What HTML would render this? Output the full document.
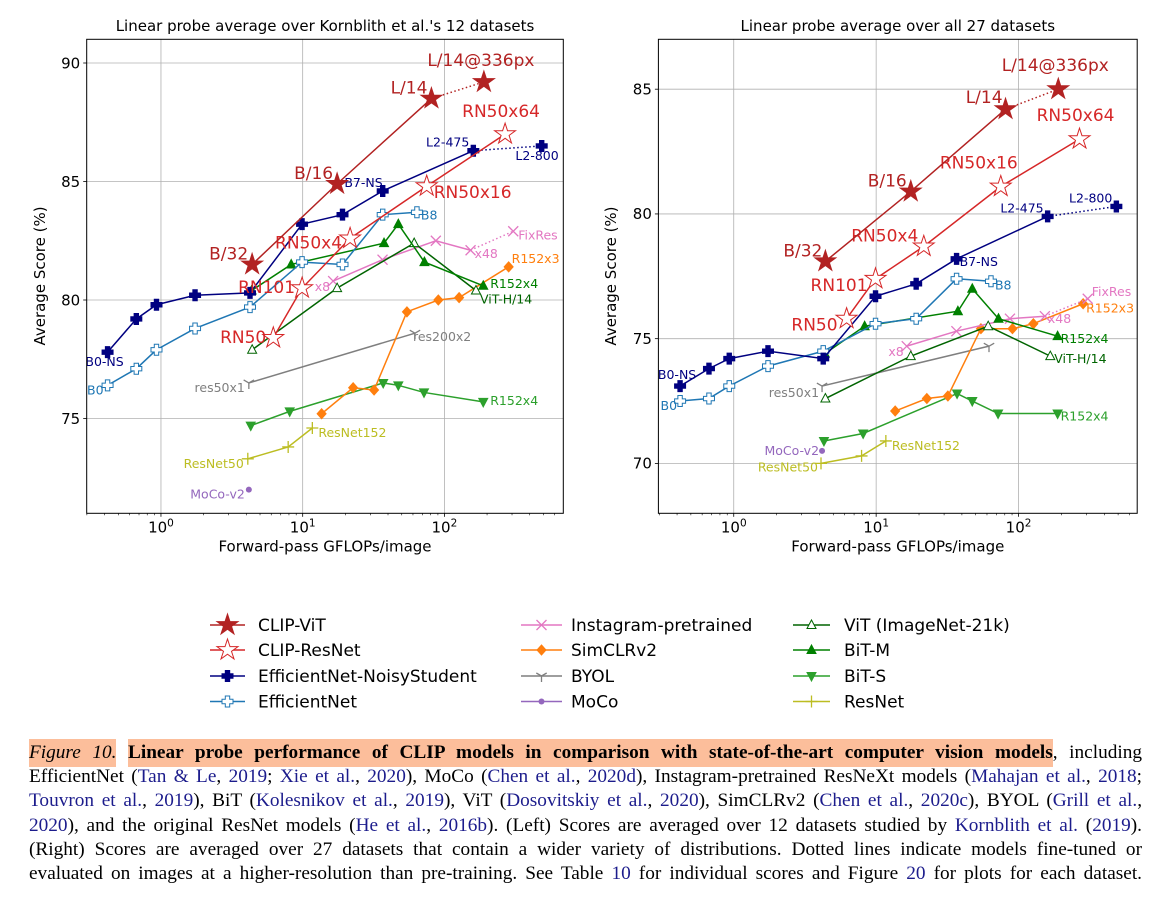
<!DOCTYPE html>
<html><head><meta charset="utf-8">
<style>
html,body{margin:0;padding:0;background:#fff;width:1162px;height:900px;overflow:hidden;position:relative}
svg{position:absolute;left:0;top:0}
#caption{position:absolute;left:29px;top:741px;width:1113px;font-family:"Liberation Serif",serif;font-size:19.3px;line-height:24.2px;color:#000}
#caption .ln{text-align:justify;text-align-last:justify;white-space:nowrap;height:24.2px}
.hl{background:#fcbe9b;padding:3px 0 4px 0}
.c{color:#1c1c8c}
</style></head>
<body>
<svg id="fig" width="1162" height="730" viewBox="0 0 1162 730" font-family="DejaVu Sans, Liberation Sans, sans-serif"></svg>
<div id="caption">
<div class="ln"><span class="hl"><i>Figure 10.</i></span> <span class="hl"><b>Linear probe performance of CLIP models in comparison with state-of-the-art computer vision models</b></span>, including</div>
<div class="ln">EfficientNet (<span class="c">Tan &amp; Le</span>, <span class="c">2019</span>; <span class="c">Xie et al.</span>, <span class="c">2020</span>), MoCo (<span class="c">Chen et al.</span>, <span class="c">2020d</span>), Instagram-pretrained ResNeXt models (<span class="c">Mahajan et al.</span>, <span class="c">2018</span>;</div>
<div class="ln"><span class="c">Touvron et al.</span>, <span class="c">2019</span>), BiT (<span class="c">Kolesnikov et al.</span>, <span class="c">2019</span>), ViT (<span class="c">Dosovitskiy et al.</span>, <span class="c">2020</span>), SimCLRv2 (<span class="c">Chen et al.</span>, <span class="c">2020c</span>), BYOL (<span class="c">Grill et al.</span>,</div>
<div class="ln"><span class="c">2020</span>), and the original ResNet models (<span class="c">He et al.</span>, <span class="c">2016b</span>). (Left) Scores are averaged over 12 datasets studied by <span class="c">Kornblith et al.</span> (<span class="c">2019</span>).</div>
<div class="ln">(Right) Scores are averaged over 27 datasets that contain a wider variety of distributions. Dotted lines indicate models fine-tuned or</div>
<div class="ln">evaluated on images at a higher-resolution than pre-training. See Table <span class="c">10</span> for individual scores and Figure <span class="c">20</span> for plots for each dataset.</div>
</div>
<script>
// ---- data (GFLOPs / image, left-chart score, right-chart score) ----
const vitFlops=[4.4,17.5,81,190];
const vitLeft=[81.5,84.9,88.5,89.2];
const vitRight=[78.1,80.9,84.2,85.0];
const rnFlops=[6.2,9.9,21.6,75,268];
const rnLeft=[78.4,80.5,82.6,84.8,87.0];
const rnRight=[75.8,77.4,78.7,81.1,83.0];
const nsFlops=[0.42,0.67,0.93,1.74,4.25,9.9,19.1,36.7,160,486];
const nsLeft=[77.8,79.2,79.8,80.2,80.3,83.2,83.6,84.6,86.3,86.5];
const nsRight=[73.1,73.8,74.2,74.5,74.2,76.7,77.2,78.2,79.9,80.3];
const effFlops=[0.42,0.67,0.93,1.74,4.25,9.9,19.1,36.7,64];
const effLeft=[76.4,77.1,77.9,78.8,79.7,81.6,81.5,83.6,83.7];
const effRight=[72.5,72.6,73.1,73.9,74.5,75.6,75.8,77.4,77.3];
const igFlops=[16.4,36.6,87,153,306];
const igLeft=[80.8,81.7,82.5,82.1,82.9];
const igRight=[74.7,75.3,75.8,75.9,76.6];
const simFlops=[13.6,22.7,31.9,54.4,90.6,127,284];
const simLeft=[75.2,76.3,76.2,79.5,80.0,80.1,81.4];
const simRight=[72.1,72.6,72.7,75.4,75.4,75.6,76.4];
const byolFlops=[4.17,62];
const byolLeft=[76.5,78.6];
const byolRight=[73.1,74.7];
const mocoFlops=[4.17];
const mocoLeft=[72.0];
const mocoRight=[70.5];
const vit21Flops=[4.4,17.5,61.2,167];
const vit21Left=[77.9,80.5,82.4,80.4];
const vit21Right=[72.6,74.3,75.5,74.3];
const bitmFlops=[4.36,8.3,37.5,47.3,72.3,188];
const bitmLeft=[80.4,81.5,82.4,83.2,81.6,80.6];
const bitmRight=[74.4,75.5,76.1,77.0,75.8,75.1];
const bitsFlops=[4.3,8.1,37,47.3,71.8,188];
const bitsLeft=[74.7,75.3,76.5,76.4,76.1,75.7];
const bitsRight=[70.9,71.2,72.8,72.5,72.0,72.0];
const resFlops=[4.1,7.9,11.7];
const resLeft=[73.3,73.8,74.6];
const resRight=[70.0,70.3,70.9];
const leftYTicks=[75,80,85,90];
const rightYTicks=[70,75,80,85];
const xMajorTicks=[1,10,100];
const legendNames=['CLIP-ViT','CLIP-ResNet','EfficientNet-NoisyStudent','EfficientNet','Instagram-pretrained','SimCLRv2','BYOL','MoCo','ViT (ImageNet-21k)','BiT-M','BiT-S','ResNet'];

// ---- styles ----
const series=[
 {key:'resnet',name:'ResNet',color:'#bcbd22',marker:'plus',x:resFlops,L:resLeft,R:resRight,dot:false,
  labL:[[0,'ResNet50',-4,9,'end'],[2,'ResNet152',6,9,'start']],labR:[[0,'ResNet50',-3,8,'end'],[2,'ResNet152',6,9,'start']]},
 {key:'moco',name:'MoCo',color:'#9467bd',marker:'circle',x:mocoFlops,L:mocoLeft,R:mocoRight,dot:false,
  labL:[[0,'MoCo-v2',-4,9,'end']],labR:[[0,'MoCo-v2',-3,4,'end']]},
 {key:'byol',name:'BYOL',color:'#7f7f7f',marker:'tri',x:byolFlops,L:byolLeft,R:byolRight,dot:false,
  labL:[[0,'res50x1',-4,9,'end'],[1,'res200x2',-2,8,'start']],labR:[[0,'res50x1',-3,11,'end']]},
 {key:'bits',name:'BiT-S',color:'#2ca02c',marker:'tridown',x:bitsFlops,L:bitsLeft,R:bitsRight,dot:false,
  labL:[[5,'R152x4',7,3,'start']],labR:[[5,'R152x4',3,7,'start']]},
 {key:'sim',name:'SimCLRv2',color:'#ff7f0e',marker:'diamond',x:simFlops,L:simLeft,R:simRight,dot:false,
  labL:[[6,'R152x3',3,-4,'start']],labR:[[6,'R152x3',3,9,'start']]},
 {key:'ig',name:'Instagram-pretrained',color:'#e377c2',marker:'x',x:igFlops,L:igLeft,R:igRight,dot:true,
  labL:[[0,'x8',-3,10,'end'],[3,'x48',4,8,'start'],[4,'FixRes',5,8,'start']],labR:[[0,'x8',-3,10,'end'],[3,'x48',3,7,'start'],[4,'FixRes',4,-3,'start']]},
 {key:'vit21',name:'ViT (ImageNet-21k)',color:'#006400',marker:'triopen',x:vit21Flops,L:vit21Left,R:vit21Right,dot:false,
  labL:[[3,'ViT-H/14',4,13,'start']],labR:[[3,'ViT-H/14',4,7,'start']]},
 {key:'bitm',name:'BiT-M',color:'#008000',marker:'triup',x:bitmFlops,L:bitmLeft,R:bitmRight,dot:false,
  labL:[[5,'R152x4',7,2,'start']],labR:[[5,'R152x4',3,7,'start']]},
 {key:'eff',name:'EfficientNet',color:'#1f77b4',marker:'Popen',x:effFlops,L:effLeft,R:effRight,dot:false,
  labL:[[0,'B0',-4,9,'end'],[8,'B8',4,7,'start']],labR:[[0,'B0',-3,9,'end'],[8,'B8',4,8,'start']]},
 {key:'ns',name:'EfficientNet-NoisyStudent',color:'#000080',marker:'P',x:nsFlops,L:nsLeft,R:nsRight,dot:true,
  labL:[[0,'B0-NS',-3,14,'middle'],[7,'B7-NS',0,-4,'end'],[8,'L2-475',-4,-4,'end'],[9,'L2-800',17,14,'end']],
  labR:[[0,'B0-NS',-3,-7,'middle'],[7,'B7-NS',3,7,'start'],[8,'L2-475',-4,-4,'end'],[9,'L2-800',-4,-4,'end']]},
 {key:'rn',name:'CLIP-ResNet',color:'#d62728',marker:'staropen',big:true,x:rnFlops,L:rnLeft,R:rnRight,dot:false,
  labL:[[0,'RN50',-7,5,'end'],[1,'RN101',-7,5,'end'],[2,'RN50x4',-8,10,'end'],[3,'RN50x16',7,12,'start'],[4,'RN50x64',-4,-17,'middle']],
  labR:[[0,'RN50',-9,12,'end'],[1,'RN101',-8,12,'end'],[2,'RN50x4',-39,-5,'middle'],[3,'RN50x16',-22,-18,'middle'],[4,'RN50x64',-4,-18,'middle']]},
 {key:'vit',name:'CLIP-ViT',color:'#b22222',marker:'star',big:true,x:vitFlops,L:vitLeft,R:vitRight,dot:true,
  labL:[[0,'B/32',-4,-5,'end'],[1,'B/16',-4,-5,'end'],[2,'L/14',-4,-5,'end'],[3,'L/14@336px',-3,-16,'middle']],
  labR:[[0,'B/32',-3,-5,'end'],[1,'B/16',-4,-5,'end'],[2,'L/14',-3,-6,'end'],[3,'L/14@336px',-3,-18,'middle']]}
];

const NS='http://www.w3.org/2000/svg';
const svg=document.getElementById('fig');
function mk(tag,attrs,parent){const e=document.createElementNS(NS,tag);for(const k in attrs)e.setAttribute(k,attrs[k]);(parent||svg).appendChild(e);return e;}

function marker(g,type,cx,cy,c){
 let e;
 if(type==='star'||type==='staropen'){
  const R=11,r=R*0.382;let p=[];
  for(let i=0;i<10;i++){const a=-Math.PI/2+i*Math.PI/5,rr=i%2?r:R;p.push((cx+rr*Math.cos(a)).toFixed(1)+','+(cy+rr*Math.sin(a)).toFixed(1));}
  e=mk('polygon',{points:p.join(' '),fill:type==='star'?c:'#fff',stroke:c,'stroke-width':1},g);
 } else if(type==='P'||type==='Popen'){
  const h=5.5,w=2.2;
  const p=[[-w,-h],[w,-h],[w,-w],[h,-w],[h,w],[w,w],[w,h],[-w,h],[-w,w],[-h,w],[-h,-w],[-w,-w]].map(q=>(cx+q[0])+','+(cy+q[1])).join(' ');
  e=mk('polygon',{points:p,fill:type==='P'?c:'#fff',stroke:c,'stroke-width':1},g);
 } else if(type==='triup'||type==='triopen'){
  e=mk('polygon',{points:`${cx},${cy-5} ${cx+4.5},${cy+3.5} ${cx-4.5},${cy+3.5}`,fill:type==='triup'?c:'#fff',stroke:c,'stroke-width':1},g);
 } else if(type==='tridown'){
  e=mk('polygon',{points:`${cx},${cy+5} ${cx+4.5},${cy-3.5} ${cx-4.5},${cy-3.5}`,fill:c,stroke:c,'stroke-width':1},g);
 } else if(type==='diamond'){
  e=mk('polygon',{points:`${cx},${cy-5} ${cx+4.5},${cy} ${cx},${cy+5} ${cx-4.5},${cy}`,fill:c,stroke:c,'stroke-width':1},g);
 } else if(type==='circle'){
  e=mk('circle',{cx:cx,cy:cy,r:3,fill:c},g);
 } else if(type==='x'){
  e=mk('path',{d:`M${cx-5},${cy-5}L${cx+5},${cy+5}M${cx-5},${cy+5}L${cx+5},${cy-5}`,stroke:c,'stroke-width':1.3,fill:'none'},g);
 } else if(type==='tri'){
  e=mk('path',{d:`M${cx},${cy}L${cx},${cy+6}M${cx},${cy}L${cx-5.2},${cy-3}M${cx},${cy}L${cx+5.2},${cy-3}`,stroke:c,'stroke-width':1.3,fill:'none'},g);
 } else if(type==='plus'){
  e=mk('path',{d:`M${cx-6},${cy}L${cx+6},${cy}M${cx},${cy-6}L${cx},${cy+6}`,stroke:c,'stroke-width':1.3,fill:'none'},g);
 }
 
 
 return e;
}

const charts=[
 {side:'left',x0:86.7,x1:563.3,y0:39.3,y1:513.3,lmin:-0.524,lmax:2.839,ymin:71,ymax:91,yt:leftYTicks,title:"Linear probe average over Kornblith et al.'s 12 datasets",ylx:45},
 {side:'right',x0:658.4,x1:1137.2,y0:39.3,y1:513.3,lmin:-0.529,lmax:2.833,ymin:68,ymax:87,yt:rightYTicks,title:'Linear probe average over all 27 datasets',ylx:616}
];

charts.forEach(ch=>{
 const sx=v=>ch.x0+(Math.log10(v)-ch.lmin)/(ch.lmax-ch.lmin)*(ch.x1-ch.x0);
 const sy=v=>ch.y1-(v-ch.ymin)/(ch.ymax-ch.ymin)*(ch.y1-ch.y0);
 const g=mk('g',{});
 
 
 const grid=mk('g',{},g);
 
 
 xMajorTicks.forEach(t=>{const X=sx(t);mk('line',{x1:X,x2:X,y1:ch.y0,y2:ch.y1,stroke:'#b0b0b0','stroke-width':0.8},grid);});
 ch.yt.forEach(t=>{const Y=sy(t);mk('line',{x1:ch.x0,x2:ch.x1,y1:Y,y2:Y,stroke:'#b0b0b0','stroke-width':0.8},grid);});
 const ax=mk('g',{},g);
 
 
 for(let d=-1;d<=2;d++)for(let m=1;m<10;m++){const v=m*Math.pow(10,d);const L=Math.log10(v);if(L<ch.lmin||L>ch.lmax)continue;const X=sx(v);
  mk('line',{x1:X,x2:X,y1:ch.y1,y2:ch.y1+(m===1?3.5:2),stroke:'#000','stroke-width':m===1?0.8:0.6},ax);}
 xMajorTicks.forEach((t,i)=>{const X=sx(t);const tx=mk('text',{x:X,y:ch.y1+19,'font-size':15,'text-anchor':'middle',fill:'#000'},ax);
  
  
  tx.appendChild(document.createTextNode('10'));const s=mk('tspan',{'font-size':10.5,dy:-6},tx);s.textContent=String(Math.round(Math.log10(t)));});
 const xl=mk('text',{x:(ch.x0+ch.x1)/2,y:551.5,'font-size':15,'text-anchor':'middle'},ax);
 
 
 xl.textContent='Forward-pass GFLOPs/image';
 const ay=mk('g',{},g);
 
 
 ch.yt.forEach(t=>{const Y=sy(t);mk('line',{x1:ch.x0-3.5,x2:ch.x0,y1:Y,y2:Y,stroke:'#000','stroke-width':0.8},ay);
  const tx=mk('text',{x:ch.x0-6.5,y:Y+5.3,'font-size':15,'text-anchor':'end'},ay);
  
  
  tx.textContent=String(t);});
 const yl=mk('text',{x:ch.ylx,y:276,'font-size':15,'text-anchor':'middle',transform:`rotate(-90 ${ch.ylx} 276)`},ay);
 
 
 yl.textContent='Average Score (%)';
 const tt=mk('text',{x:(ch.x0+ch.x1)/2,y:31,'font-size':15,'text-anchor':'middle'},g);
 
 
 tt.textContent=ch.title;
 series.forEach(s=>{
  const vals=ch.side==='left'?s.L:s.R;
  const sg=mk('g',{},g);
  
  
  const pts=s.x.map((f,i)=>[sx(f),sy(vals[i])]);
  const nSolid=s.dot?pts.length-1:pts.length;
  if(nSolid>1){const ln=mk('polyline',{points:pts.slice(0,nSolid).map(p=>p.join(',')).join(' '),fill:'none',stroke:s.color,'stroke-width':1.5},sg);
   
   }
  if(s.dot){const a=pts[pts.length-2],b=pts[pts.length-1];const dl=mk('line',{x1:a[0],y1:a[1],x2:b[0],y2:b[1],stroke:s.color,'stroke-width':1.5,'stroke-dasharray':'1.5,2.5'},sg);
   
   }
  pts.forEach(p=>marker(sg,s.marker,p[0],p[1],s.color));
  (ch.side==='left'?s.labL:s.labR).forEach(l=>{const p=pts[l[0]];
   const t=mk('text',{x:p[0]+l[2],y:p[1]+l[3],'text-anchor':l[4],'font-size':s.big?17:12.5,fill:s.color},sg);
   
   
   t.textContent=l[1];});
 });
 const fr=mk('rect',{x:ch.x0,y:ch.y0,width:ch.x1-ch.x0,height:ch.y1-ch.y0,fill:'none',stroke:'#000','stroke-width':1},g);
 
 
});

const lg=mk('g',{});


const colX=[[210,245,258],[521,562,571],[793,830,844]];
const rowY=[625,650,676,701.5];
const legOrder=['vit','rn','ns','eff','ig','sim','byol','moco','vit21','bitm','bits','resnet'];
legOrder.forEach((k,i)=>{
 const s=series.find(q=>q.key===k);const c=colX[Math.floor(i/4)],y=rowY[i%4];
 const e=mk('g',{},lg);
 
 
 mk('line',{x1:c[0],x2:c[1],y1:y,y2:y,stroke:s.color,'stroke-width':1.5},e);
 marker(e,s.marker,(c[0]+c[1])/2,y,s.color);
 const t=mk('text',{x:c[2],y:y+6,'font-size':17,fill:'#000'},e);
 
 
 t.textContent=legendNames[i];
});
</script>
</body></html>
